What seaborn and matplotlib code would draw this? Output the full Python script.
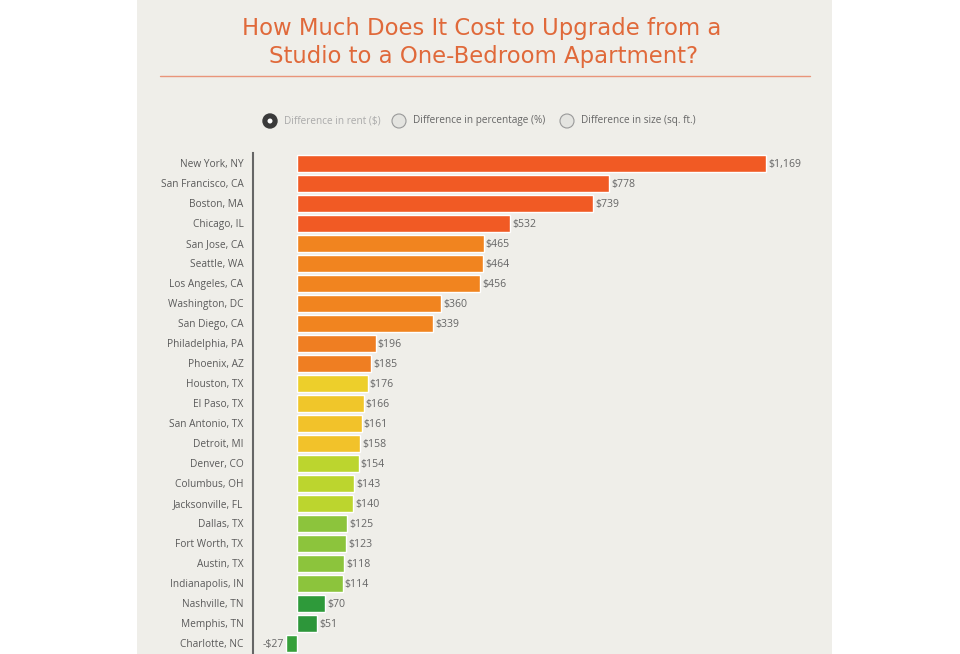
import matplotlib
matplotlib.use("Agg")
import matplotlib.pyplot as plt
import matplotlib.patches as mpatches
import seaborn as sns
import pandas as pd

# Data
cities = ["New York, NY", "San Francisco, CA", "Boston, MA", "Chicago, IL",
          "San Jose, CA", "Seattle, WA", "Los Angeles, CA", "Washington, DC",
          "San Diego, CA", "Philadelphia, PA", "Phoenix, AZ", "Houston, TX",
          "El Paso, TX", "San Antonio, TX", "Detroit, MI", "Denver, CO",
          "Columbus, OH", "Jacksonville, FL", "Dallas, TX", "Fort Worth, TX",
          "Austin, TX", "Indianapolis, IN", "Nashville, TN", "Memphis, TN",
          "Charlotte, NC"]
rent_diff = [1169, 778, 739, 532, 465, 464, 456, 360, 339, 196, 185, 176,
             166, 161, 158, 154, 143, 140, 125, 123, 118, 114, 70, 51, -27]
bar_colors = (["#F15A24"] * 4 + ["#F1841F"] * 5 + ["#EF7E22"] * 2
              + ["#EDCF2B", "#F0C62A", "#F2C22A", "#F2C22A"]
              + ["#BCD52E"] * 3 + ["#8CC43C"] * 4
              + ["#2E9A3A", "#2D963A", "#36A03A"])
options = ["Difference in rent ($)", "Difference in percentage (%)",
           "Difference in size (sq. ft.)"]

df = pd.DataFrame({"city": cities, "diff": rent_diff})

sns.set_theme(style="white")
plt.rcParams["font.family"] = ["Open Sans", "DejaVu Sans"]

W, H = 960, 654
fig = plt.figure(figsize=(W / 100, H / 100), dpi=100, facecolor="white")

# beige panel behind everything
fig.patches.append(mpatches.Rectangle((137 / W, 0), (832 - 137) / W, 1,
                                      transform=fig.transFigure,
                                      facecolor="#EFEEE9", edgecolor="none",
                                      zorder=-5))

# title
title_font = ["DejaVu Sans Condensed", "Liberation Sans Narrow", "DejaVu Sans"]
fig.text(482 / W, 1 - 28 / H, "How Much Does It Cost to Upgrade from a",
         ha="center", va="center", fontsize=16.4, color="#E0693A",
         family=title_font)
fig.text(484 / W, 1 - 57 / H, "Studio to a One-Bedroom Apartment?",
         ha="center", va="center", fontsize=16.4, color="#E0693A",
         family=title_font)
fig.add_artist(plt.Line2D([160 / W, 810 / W], [1 - 76 / H, 1 - 76 / H],
                          transform=fig.transFigure, color="#E9957A", lw=1))

# radio buttons
radio_x = [270, 399, 567]
for i, (rx, label) in enumerate(zip(radio_x, options)):
    if i == 0:
        fig.patches.append(mpatches.Ellipse((rx / W, 1 - 121 / H), 14 / W, 14 / H,
                                            transform=fig.transFigure,
                                            facecolor="#3A3A3A", edgecolor="#3A3A3A"))
        fig.patches.append(mpatches.Ellipse((rx / W, 1 - 121 / H), 5 / W, 5 / H,
                                            transform=fig.transFigure,
                                            facecolor="white", edgecolor="none"))
        tcolor = "#AAAAAA"
    else:
        fig.patches.append(mpatches.Ellipse((rx / W, 1 - 121 / H), 14 / W, 14 / H,
                                            transform=fig.transFigure,
                                            facecolor="#E4E4E0", edgecolor="#999999",
                                            lw=0.8))
        tcolor = "#666666"
    fig.text((rx + 14) / W, 1 - 121 / H, label, ha="left", va="center",
             fontsize=7.2, color=tcolor)

# bar chart
ax = fig.add_axes([253 / W, 0, (800 - 253) / W, (654 - 153) / H])
ax.set_facecolor("none")
sns.barplot(data=df, x="diff", y="city", hue="city", palette=bar_colors,
            legend=False, width=0.85, saturation=1, ax=ax)

ax.set_xlim(-109.7, 1254)
ax.set_ylim(24.55, -0.5)
ax.set_xlabel("")
ax.set_ylabel("")
ax.set_xticks([])
ax.tick_params(axis="y", length=0, pad=7, labelsize=7.3, labelcolor="#5A5A5A")
for side in ["top", "right", "bottom"]:
    ax.spines[side].set_visible(False)
ax.spines["left"].set_color("#666666")
ax.spines["left"].set_linewidth(1.5)

for container in ax.containers:
    vals = container.datavalues
    labels = [f"${v:,.0f}" if v >= 0 else f"-${-v:,.0f}" for v in vals]
    anns = ax.bar_label(container, labels=labels, padding=1.5, fontsize=7.6,
                        color="#666666")
    # nudge labels down a little so they sit level with the bar middle
    for ann in anns:
        ann.xyann = (ann.xyann[0], ann.xyann[1] - 1.2)

fig.savefig("out.png", dpi=100, facecolor="white")
